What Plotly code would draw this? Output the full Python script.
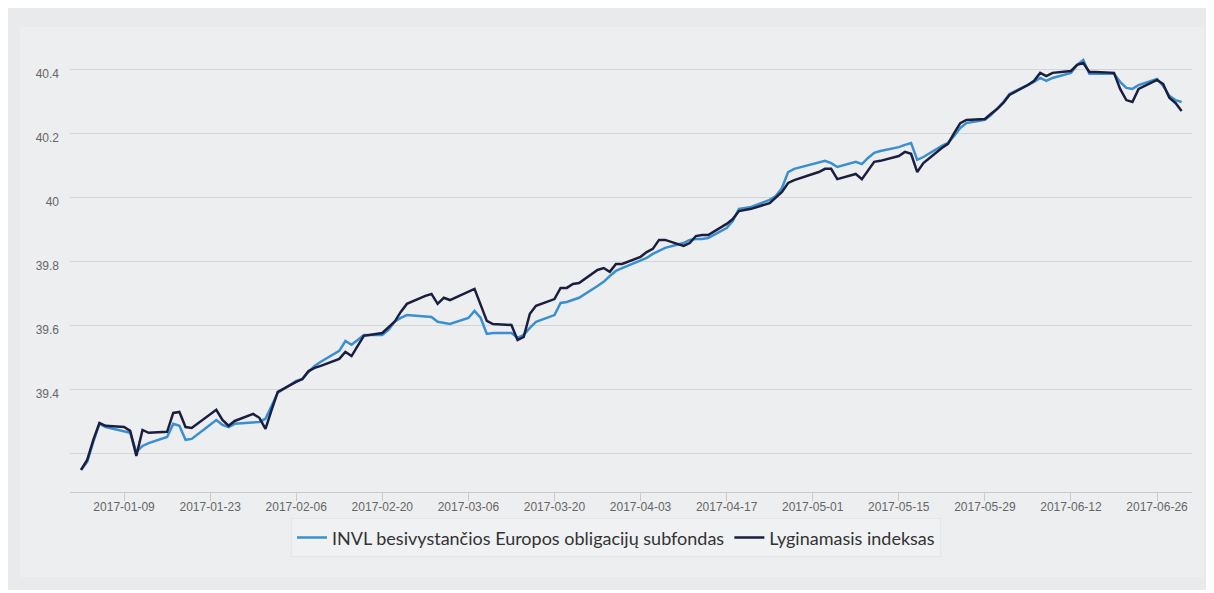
import plotly.graph_objects as go

dates = [
    "2017-01-02", "2017-01-03", "2017-01-04", "2017-01-05", "2017-01-06",
    "2017-01-09", "2017-01-10", "2017-01-11", "2017-01-12", "2017-01-13",
    "2017-01-16", "2017-01-17", "2017-01-18", "2017-01-19", "2017-01-20",
    "2017-01-23", "2017-01-24", "2017-01-25", "2017-01-26", "2017-01-27",
    "2017-01-30", "2017-01-31", "2017-02-01", "2017-02-02", "2017-02-03",
    "2017-02-06", "2017-02-07", "2017-02-08", "2017-02-09", "2017-02-10",
    "2017-02-13", "2017-02-14", "2017-02-15", "2017-02-16", "2017-02-17",
    "2017-02-20", "2017-02-21", "2017-02-22", "2017-02-23", "2017-02-24",
    "2017-02-27", "2017-02-28", "2017-03-01", "2017-03-02", "2017-03-03",
    "2017-03-06", "2017-03-07", "2017-03-08", "2017-03-09", "2017-03-10",
    "2017-03-13", "2017-03-14", "2017-03-15", "2017-03-16", "2017-03-17",
    "2017-03-20", "2017-03-21", "2017-03-22", "2017-03-23", "2017-03-24",
    "2017-03-27", "2017-03-28", "2017-03-29", "2017-03-30", "2017-03-31",
    "2017-04-03", "2017-04-04", "2017-04-05", "2017-04-06", "2017-04-07",
    "2017-04-10", "2017-04-11", "2017-04-12", "2017-04-13", "2017-04-14",
    "2017-04-17", "2017-04-18", "2017-04-19", "2017-04-20", "2017-04-21",
    "2017-04-24", "2017-04-25", "2017-04-26", "2017-04-27", "2017-04-28",
    "2017-05-01", "2017-05-02", "2017-05-03", "2017-05-04", "2017-05-05",
    "2017-05-08", "2017-05-09", "2017-05-10", "2017-05-11", "2017-05-12",
    "2017-05-15", "2017-05-16", "2017-05-17", "2017-05-18", "2017-05-19",
    "2017-05-22", "2017-05-23", "2017-05-24", "2017-05-25", "2017-05-26",
    "2017-05-29", "2017-05-30", "2017-05-31", "2017-06-01", "2017-06-02",
    "2017-06-05", "2017-06-06", "2017-06-07", "2017-06-08", "2017-06-09",
    "2017-06-12", "2017-06-13", "2017-06-14", "2017-06-15", "2017-06-16",
    "2017-06-19", "2017-06-20", "2017-06-21", "2017-06-22", "2017-06-23",
    "2017-06-26", "2017-06-27", "2017-06-28", "2017-06-29", "2017-06-30",
]

fund = [
    39.150, 39.175, 39.238, 39.294, 39.284,
    39.272, 39.266, 39.206, 39.225, 39.234,
    39.253, 39.294, 39.288, 39.244, 39.247,
    39.291, 39.306, 39.291, 39.284, 39.294,
    39.297, 39.300, 39.310, 39.350, 39.391,
    39.428, 39.434, 39.456, 39.475, 39.488,
    39.522, 39.553, 39.541, 39.556, 39.572,
    39.572, 39.588, 39.613, 39.625, 39.634,
    39.631, 39.628, 39.613, 39.609, 39.606,
    39.625, 39.647, 39.625, 39.575, 39.578,
    39.578, 39.563, 39.572, 39.594, 39.613,
    39.634, 39.672, 39.675, 39.681, 39.688,
    39.725, 39.738, 39.756, 39.772, 39.781,
    39.806, 39.813, 39.825, 39.834, 39.844,
    39.859, 39.869, 39.872, 39.872, 39.875,
    39.906, 39.928, 39.966, 39.969, 39.972,
    39.994, 40.006, 40.031, 40.081, 40.091,
    40.106, 40.113, 40.116, 40.109, 40.097,
    40.113, 40.106, 40.125, 40.141, 40.147,
    40.159, 40.166, 40.172, 40.119, 40.128,
    40.163, 40.172, 40.194, 40.219, 40.234,
    40.244, 40.259, 40.278, 40.300, 40.325,
    40.353, 40.363, 40.375, 40.366, 40.375,
    40.391, 40.416, 40.431, 40.388, 40.388,
    40.388, 40.363, 40.344, 40.341, 40.353,
    40.372, 40.350, 40.319, 40.306, 40.300,
]

index = [
    39.150, 39.181, 39.244, 39.297, 39.288,
    39.284, 39.272, 39.194, 39.275, 39.266,
    39.269, 39.328, 39.331, 39.284, 39.281,
    39.325, 39.338, 39.306, 39.288, 39.303,
    39.325, 39.313, 39.278, 39.338, 39.394,
    39.425, 39.434, 39.459, 39.469, 39.475,
    39.497, 39.519, 39.506, 39.538, 39.569,
    39.578, 39.594, 39.613, 39.644, 39.669,
    39.694, 39.700, 39.669, 39.688, 39.681,
    39.706, 39.716, 39.666, 39.616, 39.606,
    39.603, 39.556, 39.566, 39.638, 39.663,
    39.684, 39.719, 39.719, 39.731, 39.734,
    39.775, 39.781, 39.769, 39.794, 39.794,
    39.816, 39.831, 39.841, 39.869, 39.869,
    39.850, 39.859, 39.881, 39.884, 39.884,
    39.919, 39.934, 39.959, 39.962, 39.966,
    39.984, 40.000, 40.019, 40.047, 40.056,
    40.075, 40.081, 40.091, 40.091, 40.059,
    40.075, 40.059, 40.088, 40.113, 40.116,
    40.131, 40.144, 40.138, 40.081, 40.109,
    40.156, 40.169, 40.203, 40.234, 40.244,
    40.247, 40.263, 40.278, 40.297, 40.322,
    40.353, 40.366, 40.391, 40.381, 40.391,
    40.397, 40.416, 40.422, 40.394, 40.394,
    40.391, 40.341, 40.306, 40.300, 40.341,
    40.369, 40.356, 40.313, 40.297, 40.272,
]

series_names = ["INVL besivystančios Europos obligacijų subfondas", "Lyginamasis indeksas"]
series_colors = ["#3a8fd0", "#1c1e3f"]

y_tickvals = [39.2, 39.4, 39.6, 39.8, 40.0, 40.2, 40.4]
y_ticktext = ["", "39.4", "39.6", "39.8", "40", "40.2", "40.4"]
x_tickvals = ["2017-01-09", "2017-01-23", "2017-02-06", "2017-02-20", "2017-03-06",
              "2017-03-20", "2017-04-03", "2017-04-17", "2017-05-01", "2017-05-15",
              "2017-05-29", "2017-06-12", "2017-06-26"]

fig = go.Figure()
for name, vals, col in zip(series_names, [fund, index], series_colors):
    fig.add_trace(go.Scatter(
        x=dates, y=vals, name=name, mode="lines",
        line=dict(color=col, width=2.5),
    ))

bg_outer = "#e8eaec"
bg_inner = "#edeef0"

# page body has an 8px margin; the figure is sized/offset to compensate
fig.update_layout(
    width=1206, height=585,
    margin=dict(l=62, r=22, t=30, b=101),
    paper_bgcolor="#ffffff",
    plot_bgcolor="rgba(0,0,0,0)",
    showlegend=True,
    legend=dict(
        orientation="h", x=(616 - 70) / 1122, xanchor="center", y=-0.101, yanchor="middle",
        font=dict(family="Lato", size=18, color="#333333"),
        bgcolor="#eff1f3", bordercolor="#e4e6e8", borderwidth=1,
        itemwidth=30,
    ),
    xaxis=dict(
        type="date",
        range=["2016-12-31 05:00", "2017-07-01 16:30"],
        tickvals=x_tickvals,
        tickformat="%Y-%m-%d",
        showgrid=False,
        showline=True, linecolor="#c8cacc", linewidth=1,
        ticks="outside", ticklen=8, tickcolor="#c8cacc",
        ticklabelstandoff=-4,
        tickfont=dict(family="Liberation Sans, Arial", size=12, color="#666666"),
        zeroline=False,
    ),
    yaxis=dict(
        range=[39.081, 40.5],
        tickvals=y_tickvals, ticktext=y_ticktext,
        showgrid=True, gridcolor="#d3d5d7", gridwidth=1,
        showline=False, zeroline=False,
        ticks="", ticklabelstandoff=10, ticklabelshift=4,
        tickfont=dict(family="Liberation Sans, Arial", size=12, color="#666666"),
    ),
    shapes=[
        dict(type="rect", xref="paper", yref="paper", layer="below",
             x0=(4 - 70) / 1122, x1=(1210 - 70) / 1122,
             y0=(492 - 590) / 454, y1=(492 - 7) / 454,
             fillcolor=bg_outer, line=dict(width=0)),
        dict(type="rect", xref="paper", yref="paper", layer="below",
             x0=(20 - 70) / 1122, x1=(1204 - 70) / 1122,
             y0=(492 - 577) / 454, y1=(492 - 27) / 454,
             fillcolor=bg_inner, line=dict(width=0)),
    ],
)

fig.write_html("out.html")
